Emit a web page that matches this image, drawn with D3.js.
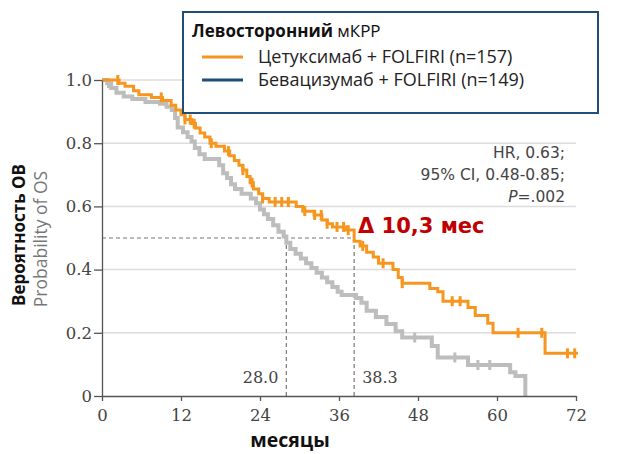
<!DOCTYPE html>
<html>
<head>
<meta charset="utf-8">
<script src="https://cdn.jsdelivr.net/npm/d3@7"></script>
<style>
  body { margin: 0; background: #fff; }
  svg { display: block; }
</style>
</head>
<body>
<div id="chart"></div>
<script>
// Kaplan-Meier steps: [month, survival after step]
const cetuxTimes = [0, 2.6, 3.5, 4.8, 5.6, 7.5, 9.2, 10.5, 11.2, 12.0, 12.6, 13.6, 14.2, 14.9, 15.6, 16.4, 17.3, 18.6, 19.4, 20.1, 20.8, 21.4, 22.0, 22.5, 23.0, 23.8, 24.4, 25.4, 29.5, 30.5, 32.2, 33.4, 34.2, 35.0, 37.0, 38.3, 39.2, 40.2, 41.2, 42.0, 44.2, 45.0, 45.6, 49.8, 51.0, 51.8, 55.6, 56.7, 58.6, 59.4, 67.3];
const cetuxSurv  = [1.0, 0.99, 0.98, 0.966, 0.953, 0.945, 0.935, 0.92, 0.905, 0.89, 0.875, 0.862, 0.848, 0.832, 0.82, 0.80, 0.79, 0.775, 0.76, 0.745, 0.73, 0.715, 0.695, 0.675, 0.655, 0.64, 0.625, 0.614, 0.60, 0.585, 0.573, 0.557, 0.545, 0.535, 0.525, 0.49, 0.475, 0.455, 0.44, 0.42, 0.40, 0.375, 0.357, 0.34, 0.33, 0.30, 0.28, 0.255, 0.23, 0.20, 0.135];
const cetuxEnd = 72.3;
const cetuxCensor = [2.4, 9.0, 12.6, 13.4, 14.0, 16.6, 19.2, 21.4, 22.8, 24.4, 26.3, 27.3, 28.3, 30.8, 32.3, 33.3, 34.2, 35.7, 36.7, 37.4, 39.6, 42.7, 45.6, 53.2, 54.4, 63.2, 66.8, 70.7, 71.8];

const bevaTimes = [0, 0.8, 1.4, 2.2, 3.3, 4.6, 6.6, 8.8, 9.8, 10.6, 11.1, 11.5, 12.3, 13.0, 13.6, 14.1, 14.8, 15.6, 17.8, 18.4, 19.0, 19.6, 20.2, 21.2, 22.6, 23.4, 24.0, 24.6, 25.2, 26.0, 26.8, 27.6, 28.0, 28.6, 29.4, 30.2, 31.0, 31.8, 32.6, 33.4, 34.2, 35.0, 35.8, 36.4, 38.6, 39.4, 40.2, 41.6, 43.2, 44.6, 45.6, 50.1, 51.0, 55.6, 62.0, 62.8, 64.3];
const bevaSurv  = [1.0, 0.99, 0.975, 0.96, 0.948, 0.94, 0.93, 0.925, 0.915, 0.905, 0.88, 0.85, 0.835, 0.82, 0.805, 0.785, 0.765, 0.75, 0.73, 0.705, 0.69, 0.67, 0.655, 0.64, 0.625, 0.61, 0.59, 0.575, 0.56, 0.54, 0.52, 0.505, 0.485, 0.465, 0.45, 0.435, 0.42, 0.405, 0.39, 0.375, 0.36, 0.345, 0.33, 0.32, 0.31, 0.295, 0.27, 0.25, 0.228, 0.205, 0.185, 0.158, 0.122, 0.098, 0.075, 0.063, 0.0];
const bevaEnd = 64.3;
const bevaCensor = [1.0, 47.5, 53.6, 57.1, 58.9];

const xTicks = [0, 12, 24, 36, 48, 60, 72];
const yTicks = [0, 0.2, 0.4, 0.6, 0.8, 1.0];
const yTickLabels = ['0', '0.2', '0.4', '0.6', '0.8', '1.0'];
const medians = [28.0, 38.3];
const medianLabels = ['28.0', '38.3'];
const statLines = ['HR, 0.63;', '95% CI, 0.48-0.85;'];

const legendTitle = ['Левосторонний', ' мКРР'];
const legendNames = ['Цетуксимаб + FOLFIRI (n=157)', 'Бевацизумаб + FOLFIRI (n=149)'];
const legendColors = ['#f7941d', '#1f4e79'];

const svgWidth = 621;
const svgHeight = 454;

const orange = '#f7961f';
const grey = '#bdbdbd';
const axisColor = '#555';
const serif = '"DejaVu Serif", "Liberation Serif", serif';
const sans = '"Open Sans", "Noto Sans", sans-serif';

const svg = d3.select('#chart').append('svg')
    .attr('width', svgWidth)
    .attr('height', svgHeight);

const x = d3.scaleLinear().domain([0, 72]).range([102, 576]);
const y = d3.scaleLinear().domain([0, 1]).range([396, 80]);

// Grid
svg.append('g')
    .selectAll('line')
    .data(yTicks.filter(d => d > 0))
    .enter()
    .append('line')
    .attr('x1', x(0))
    .attr('x2', x(72))
    .attr('y1', d => y(d))
    .attr('y2', d => y(d))
    .attr('stroke', '#dcdcdc')
    .attr('stroke-width', 1.5);

// Median dashed guides
const dash = svg.append('g')
    .attr('stroke', '#777')
    .attr('stroke-width', 1.2)
    .attr('stroke-dasharray', '4,3')
    .attr('fill', 'none');

dash.append('line')
    .attr('x1', x(0))
    .attr('x2', x(medians[1]))
    .attr('y1', y(0.5))
    .attr('y2', y(0.5));

dash.selectAll('line.v')
    .data(medians)
    .enter()
    .append('line')
    .attr('class', 'v')
    .attr('x1', d => x(d))
    .attr('x2', d => x(d))
    .attr('y1', y(0.5))
    .attr('y2', y(0));

svg.selectAll('text.median')
    .data(medians)
    .enter()
    .append('text')
    .attr('class', 'median')
    .attr('x', (d, i) => i === 0 ? x(d) - 8 : x(d) + 8)
    .attr('y', 383)
    .style('text-anchor', (d, i) => i === 0 ? 'end' : 'start')
    .style('font-family', serif)
    .style('font-size', '16px')
    .style('fill', '#444')
    .text((d, i) => medianLabels[i]);

// Curves
const line = d3.line()
    .x(d => x(d[0]))
    .y(d => y(d[1]))
    .curve(d3.curveStepAfter);

function stepPoints(times, surv, end) {
    const pts = times.map((t, i) => [t, surv[i]]);
    pts.push([end, surv[surv.length - 1]]);
    return pts;
}

function survAt(times, surv, t) {
    const i = d3.bisectRight(times, t) - 1;
    return surv[Math.max(0, i)];
}

const series = [
    { times: bevaTimes, surv: bevaSurv, end: bevaEnd, censor: bevaCensor, color: grey, width: 4 },
    { times: cetuxTimes, surv: cetuxSurv, end: cetuxEnd, censor: cetuxCensor, color: orange, width: 3 }
];

series.forEach(s => {
    svg.append('path')
        .attr('d', line(stepPoints(s.times, s.surv, s.end)))
        .attr('fill', 'none')
        .attr('stroke', s.color)
        .attr('stroke-width', s.width);

    svg.append('g')
        .selectAll('line')
        .data(s.censor)
        .enter()
        .append('line')
        .attr('x1', d => x(d))
        .attr('x2', d => x(d))
        .attr('y1', d => y(survAt(s.times, s.surv, d)) - 5)
        .attr('y2', d => y(survAt(s.times, s.surv, d)) + 5)
        .attr('stroke', s.color)
        .attr('stroke-width', 3);
});

// Axes
const xAxis = svg.append('g')
    .attr('transform', `translate(0,${y(0)})`)
    .call(d3.axisBottom(x).tickValues(xTicks).tickSize(5).tickPadding(8).tickSizeOuter(0));

const yAxis = svg.append('g')
    .attr('transform', `translate(${x(0)},0)`)
    .call(d3.axisLeft(y).tickValues(yTicks).tickFormat((d, i) => yTickLabels[i]).tickSize(8).tickPadding(2).tickSizeOuter(0));

[xAxis, yAxis].forEach(a => {
    a.attr('font-family', null);
    a.select('.domain').attr('stroke', axisColor).attr('stroke-width', 1.3);
    a.selectAll('.tick line').attr('stroke', axisColor).attr('stroke-width', 1.3);
    a.selectAll('.tick text')
        .style('font-family', serif)
        .style('font-size', '16.5px')
        .style('fill', '#444');
});

// Axis titles
svg.append('text')
    .attr('transform', 'translate(25,235) rotate(-90)')
    .style('text-anchor', 'middle')
    .style('font-family', sans)
    .style('font-weight', 'bold')
    .style('font-size', '17px')
    .style('fill', '#111')
    .text('Вероятность ОВ');

svg.append('text')
    .attr('transform', 'translate(47,239) rotate(-90)')
    .style('text-anchor', 'middle')
    .style('font-family', sans)
    .style('font-size', '17.5px')
    .style('fill', '#777')
    .text('Probability of OS');

svg.append('text')
    .attr('x', 290)
    .attr('y', 447)
    .style('text-anchor', 'middle')
    .style('font-family', sans)
    .style('font-weight', 'bold')
    .style('font-size', '19.5px')
    .style('fill', '#111')
    .text('месяцы');

// Stats
const stats = svg.append('text')
    .style('font-family', '"DejaVu Sans", sans-serif')
    .style('font-size', '15.5px')
    .style('fill', '#444')
    .style('text-anchor', 'end');

statLines.forEach((s, i) => {
    stats.append('tspan')
        .attr('x', 565)
        .attr('y', 158 + i * 22)
        .text(s);
});

const pLine = stats.append('tspan')
    .attr('x', 565)
    .attr('y', 202);
pLine.append('tspan').style('font-style', 'italic').text('P');
pLine.append('tspan').text('=.002');

svg.append('text')
    .attr('x', 358)
    .attr('y', 233)
    .style('font-family', '"DejaVu Sans", sans-serif')
    .style('font-weight', 'bold')
    .style('font-size', '21px')
    .style('fill', '#c00000')
    .text('Δ 10,3 мес');

// Legend
const legend = svg.append('g');

legend.append('rect')
    .attr('x', 183)
    .attr('y', 12)
    .attr('width', 415)
    .attr('height', 101)
    .attr('fill', '#fff')
    .attr('stroke', '#1f4e79')
    .attr('stroke-width', 2);

const title = legend.append('text')
    .attr('x', 192)
    .attr('y', 37)
    .style('font-family', sans)
    .style('font-size', '17px')
    .style('fill', '#111');
title.append('tspan').style('font-weight', 'bold').text(legendTitle[0]);
title.append('tspan').text(legendTitle[1]);

legendNames.forEach((n, i) => {
    legend.append('line')
        .attr('x1', 202)
        .attr('x2', 243)
        .attr('y1', 57 + i * 23)
        .attr('y2', 57 + i * 23)
        .attr('stroke', legendColors[i])
        .attr('stroke-width', 3);

    legend.append('text')
        .attr('x', 258)
        .attr('y', 63 + i * 23)
        .style('font-family', sans)
        .style('font-size', '18px')
        .style('fill', '#222')
        .text(n);
});
</script>
</body>
</html>
